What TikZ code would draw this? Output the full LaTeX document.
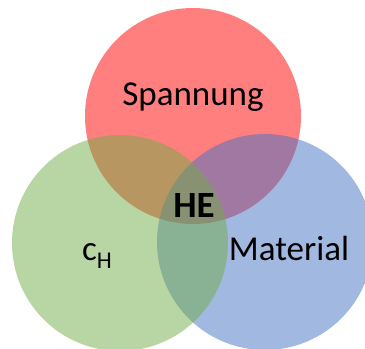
\documentclass[tikz,border=0pt]{standalone}
\usepackage{fontspec}
\setmainfont{Carlito}
\definecolor{redset}{HTML}{FF0000}
\definecolor{blueset}{HTML}{4472C4}
\definecolor{greenset}{HTML}{70AD47}
\tikzset{
	set/.style={circle, minimum size=216bp, inner sep=0pt, fill opacity=0.5},
	settext/.style={anchor=base, inner sep=0pt, font=\fontsize{35bp}{42bp}\selectfont}
}
\begin{document}
\begin{tikzpicture}[x=1bp, y=1bp]
		\useasboundingbox (0,0) rectangle (365,349);
		
		\node[set, fill=redset] (spannung) at (193,233) {};
		\node[set, fill=blueset] (material) at (265,107) {};
		\node[set, fill=greenset] (ch) at (120,106) {};
		
		\node[settext] (spannungtext) at (193,244) {Spannung};
		\node[settext] (materialtext) at (289,89) {Material};
		\node[settext, font=\fontsize{37bp}{44bp}\selectfont\bfseries] (he) at (194,132) {HE};
		\node[settext] (chtext) at (97,89) {c\raisebox{-8bp}{\fontsize{24bp}{28bp}\selectfont H}};
	\end{tikzpicture}
\end{document}
